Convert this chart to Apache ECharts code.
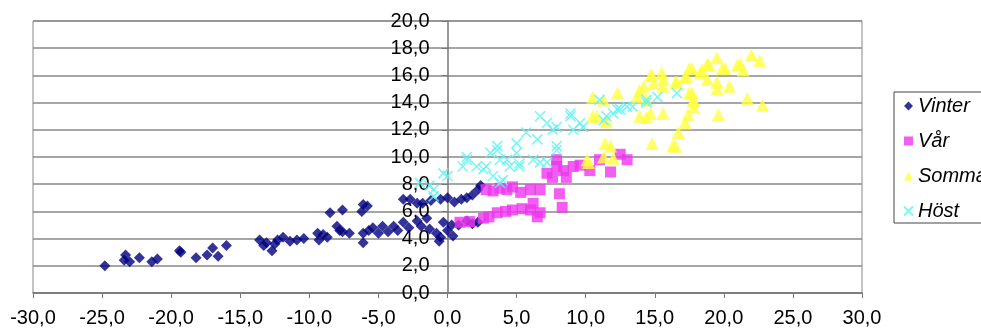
<!DOCTYPE html>
<html>
<head>
<meta charset="utf-8">
<script src="https://cdn.jsdelivr.net/npm/echarts@6/dist/echarts.min.js"></script>
<style>
    html, body { margin: 0; padding: 0; background: #fff; }
    #main { width: 981px; height: 329px; }
</style>
</head>
<body>
<div id="main"></div>
<script>
    // säsonger
    var seriesNames = ['Vinter', 'Vår', 'Sommar', 'Höst'];

    // [x, y] lästa från bilden
    var vinter = [
        [-24.8, 2.0], [-23.4, 2.4], [-23.3, 2.8], [-23.0, 2.3], [-22.3, 2.6], [-21.4, 2.3], [-21.0, 2.5],
        [-19.4, 3.1], [-19.3, 3.0], [-18.2, 2.6], [-17.4, 2.8], [-17.0, 3.3], [-16.6, 2.7], [-16.0, 3.5],
        [-13.6, 3.9], [-13.3, 3.5], [-13.1, 3.7], [-12.7, 3.1], [-12.5, 3.6], [-12.3, 3.9], [-11.9, 4.1],
        [-11.4, 3.8], [-10.9, 3.9], [-10.4, 4.0], [-9.4, 4.4], [-9.3, 3.9], [-9.0, 4.3], [-8.7, 4.1],
        [-8.5, 5.9], [-7.6, 6.1], [-8.0, 4.9], [-7.8, 4.6], [-7.6, 4.5], [-7.1, 4.4], [-6.1, 6.5],
        [-5.8, 6.4], [-6.2, 6.0], [-6.1, 3.7], [-6.1, 4.4], [-5.7, 4.6], [-5.4, 4.8], [-5.0, 4.4],
        [-4.7, 4.9], [-4.3, 4.5], [-3.9, 4.9], [-3.6, 4.6], [-3.2, 5.2], [-2.8, 4.8], [-2.2, 5.3],
        [-1.9, 4.9], [-1.5, 5.5], [-1.3, 4.7], [-0.8, 4.4], [-0.5, 4.1], [-0.3, 5.2], [0.0, 4.6],
        [0.3, 5.0], [-3.2, 6.9], [-2.7, 6.9], [-2.2, 6.6], [-1.8, 6.6], [-1.2, 6.8], [-0.5, 6.9],
        [0.0, 7.0], [0.5, 6.7], [1.0, 6.9], [1.4, 7.0], [1.8, 7.2], [2.2, 7.6], [2.4, 7.9],
        [0.8, 5.0], [1.4, 5.3], [1.8, 5.1], [2.2, 5.2], [0.4, 4.2], [-0.6, 3.8]
    ];
    var var_ = [
        [0.9, 5.2], [1.6, 5.25], [2.6, 5.5], [3.0, 5.6], [3.6, 5.9], [4.2, 6.0], [4.7, 6.1],
        [5.4, 6.2], [6.0, 6.1], [6.7, 5.9], [6.5, 5.6], [8.3, 6.3], [2.8, 7.6], [3.3, 7.5],
        [3.8, 7.7], [4.3, 7.6], [4.7, 7.8], [5.3, 7.4], [6.0, 7.6], [6.7, 7.6], [6.2, 6.6],
        [7.2, 8.8], [7.6, 8.5], [7.9, 9.3], [8.1, 7.3], [8.6, 8.5], [7.9, 9.8], [8.4, 9.0],
        [9.1, 9.3], [9.6, 9.4], [10.3, 9.0], [11.0, 9.8], [11.8, 8.9], [12.5, 10.2], [13.0, 9.8]
    ];
    var sommar = [
        [10.1, 9.8], [10.2, 9.6], [11.3, 10.0], [12.0, 9.9], [11.4, 11.0], [11.8, 10.8], [10.5, 13.0],
        [10.8, 13.0], [11.5, 12.6], [10.5, 14.4], [11.3, 14.2], [12.3, 14.7], [13.7, 14.4], [13.9, 14.9],
        [14.2, 15.2], [14.4, 14.2], [13.9, 13.0], [14.4, 12.9], [14.7, 13.2], [15.6, 13.2], [14.8, 11.0],
        [14.7, 16.0], [14.8, 16.0], [15.5, 16.2], [15.6, 15.7], [14.9, 15.4], [15.6, 15.2], [16.5, 15.5],
        [16.6, 15.5], [16.3, 10.8], [16.5, 10.8], [16.7, 11.8], [17.2, 12.5], [17.4, 13.1], [17.8, 13.7],
        [17.8, 14.1], [17.8, 14.2], [17.5, 14.7], [17.7, 14.7], [17.2, 15.9], [17.3, 15.9], [17.5, 16.5],
        [17.7, 16.5], [18.3, 16.2], [18.4, 16.4], [18.8, 16.8], [18.9, 16.8], [18.8, 15.7], [19.5, 15.5],
        [19.5, 15.0], [19.5, 17.3], [19.9, 16.5], [20.1, 16.5], [20.4, 15.2], [21.0, 16.8], [21.2, 16.8],
        [21.4, 16.4], [22.0, 17.5], [22.6, 17.1], [21.7, 14.3], [22.8, 13.8], [19.6, 13.1]
    ];
    var host = [
        [-2.0, 8.1], [-1.3, 7.9], [-1.0, 7.6], [-1.0, 7.1], [-0.3, 8.8], [0.0, 8.6], [1.1, 9.3],
        [1.4, 9.8], [1.4, 10.0], [2.1, 9.3], [2.6, 9.1], [2.8, 9.3], [3.1, 10.3], [3.6, 10.8],
        [3.6, 10.5], [3.8, 9.8], [3.3, 8.6], [3.8, 8.1], [4.0, 8.3], [4.3, 9.8], [4.5, 9.3],
        [5.0, 10.3], [5.0, 11.0], [5.2, 9.3], [5.2, 9.5], [5.7, 11.8], [6.2, 9.8], [6.5, 11.3],
        [6.7, 13.0], [6.7, 9.6], [7.2, 12.5], [7.2, 9.6], [7.6, 12.0], [7.9, 10.5], [7.9, 10.8],
        [7.9, 12.2], [8.9, 13.2], [8.9, 13.0], [9.1, 12.0], [9.6, 12.5], [9.8, 12.2], [11.0, 14.2],
        [11.3, 12.7], [11.5, 13.0], [12.0, 13.2], [12.3, 13.5], [12.5, 13.5], [13.0, 13.7], [13.4, 13.7],
        [14.4, 14.0], [14.4, 14.2], [15.2, 14.4], [16.6, 14.7]
    ];

    var fmt = function (v) { return v.toFixed(1).replace('.', ','); };

    var myEchart = echarts.init(document.getElementById('main'));

    var option = {
        animation: false,
        textStyle: { fontFamily: 'Liberation Sans, Arial, sans-serif' },
        grid: {
            left: 33, right: 119, top: 21, bottom: 36,
            show: true, borderColor: '#888', borderWidth: 1
        },
        legend: {
            data: seriesNames,
            orient: 'vertical',
            left: 894, top: 92,
            padding: [4, 6, 2, 9],
            itemGap: 15,
            itemWidth: 9, itemHeight: 9,
            borderColor: '#444', borderWidth: 1,
            textStyle: { fontSize: 20, fontStyle: 'italic', color: '#000' }
        },
        xAxis: {
            type: 'value',
            min: -30, max: 30, interval: 5,
            axisLine: { onZero: false, lineStyle: { color: '#777', width: 1.5 } },
            axisTick: { show: true, length: 5, lineStyle: { color: '#777' } },
            axisLabel: { formatter: fmt, fontSize: 20, color: '#000', margin: 15 },
            splitLine: { show: false }
        },
        yAxis: {
            type: 'value',
            min: 0, max: 20, interval: 2,
            offset: -414.5,
            axisLine: { show: true, onZero: false, lineStyle: { color: '#777', width: 1.5 } },
            axisTick: { show: true, length: 6, lineStyle: { color: '#777' } },
            axisLabel: { formatter: fmt, fontSize: 20, color: '#000', margin: 18 },
            splitLine: { show: true, lineStyle: { color: '#888', width: 1.5 } }
        },
        series: [
            {
                name: 'Vinter', type: 'scatter', data: vinter,
                symbol: 'diamond', symbolSize: 11,
                itemStyle: { color: '#000080' }
            },
            {
                name: 'Vår', type: 'scatter', data: var_,
                symbol: 'rect', symbolSize: 11,
                itemStyle: { color: '#ee36ee' }
            },
            {
                name: 'Sommar', type: 'scatter', data: sommar,
                symbol: 'triangle', symbolSize: 13,
                itemStyle: { color: '#ffff40' }
            },
            {
                name: 'Höst', type: 'scatter', data: host,
                symbol: 'path://M0,0L10,10M10,0L0,10', symbolSize: 10,
                itemStyle: { color: 'rgba(0,0,0,0)', borderColor: '#5ef2f2', borderWidth: 1.6 }
            }
        ]
    };
    myEchart.setOption(option);
</script>
</body>
</html>
